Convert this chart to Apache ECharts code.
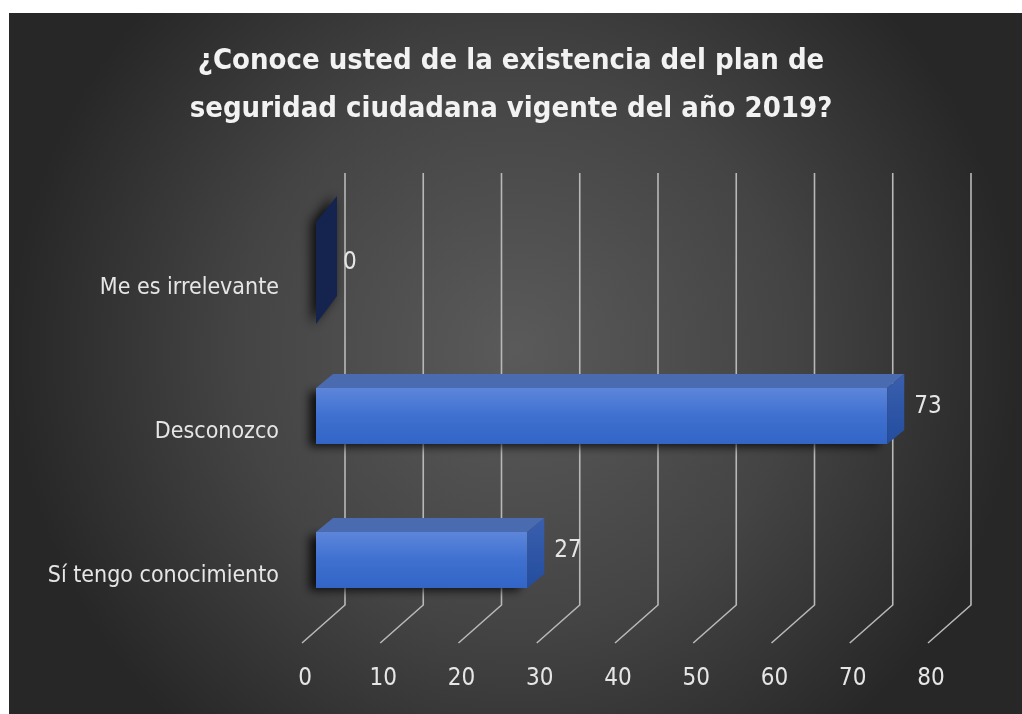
<!DOCTYPE html>
<html>
<head>
<meta charset="utf-8">
<script src="https://cdn.jsdelivr.net/npm/echarts@6.0.0/dist/echarts.min.js"></script>
<style>
html,body{margin:0;padding:0;background:#fff;}
#chart{width:1022px;height:714px;}
</style>
</head>
<body>
<div id="chart"></div>
<script>
var titleText = '¿Conoce usted de la existencia del plan de\nseguridad ciudadana vigente del año 2019?';
var categories = ['Sí tengo conocimiento', 'Desconozco', 'Me es irrelevante'];
var values = [27, 73, 0];
var xTicks = [0, 10, 20, 30, 40, 50, 60, 70, 80];

var FONT = "'Liberation Sans Narrow', 'Arial Narrow', 'DejaVu Sans Condensed', sans-serif";
var DEPTH_X = 17, DEPTH_Y = 14;
var WALL_DX = 29, WALL_TOP = 173, WALL_BOTTOM = 605, FLOOR_Y = 643, FLOOR_DX = -14;

var chart = echarts.init(document.getElementById('chart'));

var barData = values.map(function (v, i) { return [v, i]; });
var tickData = xTicks.map(function (t) { return [t, 0]; });

chart.setOption({
  backgroundColor: '#ffffff',
  animation: false,
  graphic: [{
    type: 'rect', z: -100, silent: true,
    shape: { x: 9, y: 13, width: 1013, height: 701 },
    style: {
      fill: {
        type: 'radial', x: 0.5, y: 0.48, r: 0.72,
        colorStops: [
          { offset: 0, color: '#5a5a5a' },
          { offset: 0.55, color: '#444444' },
          { offset: 1, color: '#272727' }
        ]
      }
    }
  }],
  title: {
    text: titleText,
    left: 'center',
    top: 32,
    textStyle: {
      color: '#f2f2f2', fontFamily: FONT, fontWeight: 'bold',
      fontSize: 29, lineHeight: 48
    }
  },
  grid: { left: 316, right: 80, top: 200, bottom: 82, containLabel: false },
  xAxis: {
    type: 'value', min: 0, max: 80, interval: 10,
    axisLine: { show: false }, axisTick: { show: false },
    splitLine: { show: false },
    axisLabel: {
      color: '#e6e6e6', fontFamily: FONT, fontSize: 24,
      margin: 35, padding: [0, 22, 0, 0]
    }
  },
  yAxis: {
    type: 'category', data: categories,
    axisLine: { show: false }, axisTick: { show: false },
    splitLine: { show: false },
    axisLabel: {
      color: '#e6e6e6', fontFamily: FONT, fontSize: 23,
      margin: 37, verticalAlign: 'top', lineHeight: 32
    }
  },
  series: [{
    type: 'custom',
    name: 'grid',
    data: tickData,
    z: 1,
    silent: true,
    renderItem: function (params, api) {
      var p = api.coord([api.value(0), 0]);
      var xb = p[0] + WALL_DX;
      var xf = p[0] + FLOOR_DX;
      return {
        type: 'polyline',
        shape: { points: [[xb, WALL_TOP], [xb, WALL_BOTTOM], [xf, FLOOR_Y]] },
        style: { stroke: '#b8b8b8', lineWidth: 1.6, fill: null }
      };
    }
  }, {
    type: 'custom',
    name: 'bars',
    data: barData,
    z: 5,
    renderItem: function (params, api) {
      var v = api.value(0), c = api.value(1);
      var p0 = api.coord([0, c]);
      var p1 = api.coord([v, c]);
      var band = api.size([0, 1])[1];
      var h = band * 0.39;
      var x0 = p0[0], x1 = p1[0];
      var yT = p0[1] - h / 2, yB = p0[1] + h / 2;
      var children = [];
      if (x1 - x0 > 0.5) {
        children.push({
          type: 'rect',
          shape: { x: x0, y: yT, width: x1 - x0, height: h },
          style: {
            fill: new echarts.graphic.LinearGradient(0, 0, 0, 1, [
              { offset: 0, color: '#5d86da' },
              { offset: 0.5, color: '#3f70d0' },
              { offset: 1, color: '#3265c6' }
            ]),
            shadowColor: 'rgba(0,0,0,0.8)', shadowBlur: 9,
            shadowOffsetX: -7, shadowOffsetY: 3
          }
        });
        children.push({
          type: 'polygon',
          shape: { points: [[x0, yT], [x1, yT], [x1 + DEPTH_X, yT - DEPTH_Y], [x0 + DEPTH_X, yT - DEPTH_Y]] },
          style: { fill: '#4a6bb0' }
        });
        children.push({
          type: 'polygon',
          shape: { points: [[x1, yT], [x1 + DEPTH_X, yT - DEPTH_Y], [x1 + DEPTH_X, yB - DEPTH_Y], [x1, yB]] },
          style: {
            fill: new echarts.graphic.LinearGradient(0, 0, 0, 1, [
              { offset: 0, color: '#3a5fae' },
              { offset: 1, color: '#244d9e' }
            ])
          }
        });
      } else {
        children.push({
          type: 'polygon',
          shape: { points: [[x0, yT - 22], [x0 + DEPTH_X + 4, yT - DEPTH_Y - 34], [x0 + DEPTH_X + 4, yB - DEPTH_Y + 10], [x0, yB + 24]] },
          style: {
            fill: '#14244f',
            shadowColor: 'rgba(0,0,0,0.9)', shadowBlur: 12, shadowOffsetX: -4
          }
        });
      }
      children.push({
        type: 'text',
        style: {
          text: String(v),
          x: x1 + DEPTH_X + 10,
          y: p0[1] - DEPTH_Y / 2 - 2,
          fill: '#e6e6e6',
          font: '24px ' + FONT,
          align: 'left',
          verticalAlign: 'middle'
        }
      });
      return { type: 'group', children: children };
    }
  }]
});
</script>
</body>
</html>
